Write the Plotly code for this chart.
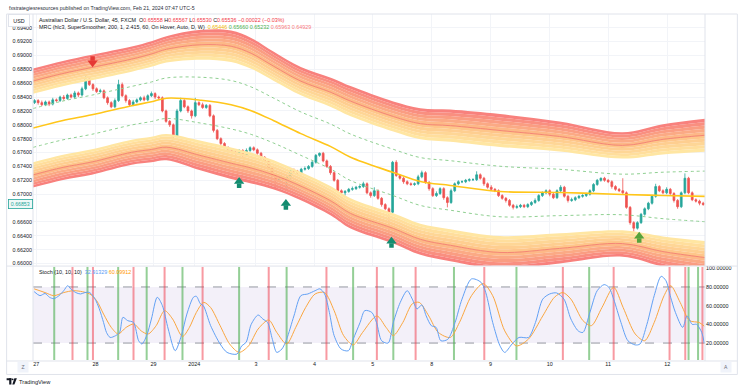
import numpy as np
import plotly.graph_objects as go

W, H = 743, 390
ML, MR, MT, MB = 31, 37, 13, 30
PW, PH = W - ML - MR, H - MT - MB


def xp(px):
    return (px - ML) / PW


def yp(py):
    return (H - MB - py) / PH


FONT = "Liberation Sans, Arial, sans-serif"
TXT = "#131722"
GRID = "#f2f4f8"
BORDER = "#e0e3eb"

# ---------------- data ----------------
day_ticks = [0.5, 16.7, 32.6, 43.7, 60.6, 76.6, 92.6, 108.7, 124.8, 141.0, 157.0, 173.2]
day_labels = ["27", "28", "29", "2024", "3", "4", "5", "8", "9", "10", "11", "12"]
price_ticks = [0.660, 0.662, 0.664, 0.666, 0.670, 0.672, 0.674, 0.676,
               0.678, 0.680, 0.682, 0.684, 0.686, 0.688, 0.690, 0.692, 0.694]
stoch_ticks = [20, 40, 60, 80, 100]

# 90-minute candles, prices in pips (x 1e-4)
first_open_pips = 6832
close_pips = [
    6835, 6832, 6829, 6833, 6830, 6836, 6835, 6840, 6838, 6843,
    6840, 6846, 6843, 6852, 6866, 6858, 6852, 6848, 6849, 6839,
    6832, 6826, 6835, 6858, 6842, 6835, 6829, 6833, 6836, 6839,
    6836, 6842, 6845, 6840, 6839, 6820, 6805, 6800, 6784, 6820,
    6835, 6826, 6820, 6813, 6832, 6829, 6825, 6828, 6813, 6792,
    6780, 6773, 6767, 6763, 6761, 6759, 6763, 6756, 6763, 6767,
    6764, 6759, 6753, 6748, 6737, 6727, 6720, 6724, 6721, 6724,
    6734, 6733, 6731, 6736, 6737, 6740, 6746, 6756, 6759, 6748,
    6740, 6731, 6720, 6705, 6702, 6704, 6707, 6708, 6710, 6711,
    6715, 6702, 6698, 6705, 6694, 6685, 6679, 6674, 6746, 6727,
    6723, 6718, 6715, 6714, 6715, 6725, 6731, 6717, 6708, 6698,
    6701, 6708, 6695, 6688, 6705, 6715, 6718, 6718, 6720, 6721,
    6721, 6728, 6723, 6715, 6710, 6707, 6705, 6698, 6694, 6691,
    6684, 6681, 6682, 6684, 6682, 6685, 6688, 6691, 6698, 6702,
    6705, 6700, 6695, 6705, 6710, 6697, 6691, 6692, 6695, 6697,
    6698, 6700, 6705, 6714, 6720, 6723, 6720, 6718, 6711, 6707,
    6705, 6702, 6681, 6659, 6651, 6659, 6671, 6679, 6687, 6697,
    6711, 6705, 6702, 6707, 6701, 6691, 6682, 6702, 6723, 6702,
    6692, 6690, 6687, 6685.3,
]
wick_up_pips = [
    2, 2, 3, 2, 2, 3, 2, 2, 3, 2,
    2, 3, 2, 3, 5, 3, 2, 2, 3, 2,
    2, 2, 3, 7, 3, 2, 2, 3, 2, 2,
    3, 2, 3, 2, 2, 2, 2, 2, 2, 3,
    4, 2, 2, 2, 7, 2, 3, 2, 2, 2,
    2, 2, 2, 2, 3, 2, 2, 2, 3, 2,
    2, 2, 2, 2, 2, 2, 2, 2, 2, 2,
    2, 3, 2, 2, 3, 2, 2, 2, 1, 2,
    2, 2, 2, 2, 2, 2, 2, 3, 2, 2,
    3, 2, 2, 5, 2, 2, 2, 2, 2, 3,
    2, 2, 2, 2, 2, 3, 3, 2, 2, 2,
    3, 2, 2, 2, 3, 2, 2, 2, 2, 2,
    2, 5, 2, 2, 2, 3, 2, 2, 2, 2,
    2, 2, 3, 2, 2, 2, 2, 3, 2, 2,
    2, 2, 3, 2, 3, 2, 2, 3, 2, 2,
    2, 2, 2, 2, 2, 1, 2, 2, 2, 2,
    2, 18, 2, 2, 2, 2, 2, 2, 2, 2,
    4, 2, 2, 3, 2, 2, 2, 2, 7, 2,
    2, 2, 2, 2,
]
wick_dn_pips = [
    2, 3, 2, 2, 3, 2, 2, 2, 3, 2,
    2, 2, 3, 2, 2, 2, 3, 2, 2, 2,
    3, 2, 2, 2, 2, 3, 2, 2, 2, 2,
    2, 2, 2, 3, 2, 2, 2, 3, 4, 2,
    2, 2, 3, 4, 2, 2, 2, 2, 2, 3,
    2, 2, 2, 3, 2, 2, 2, 5, 2, 2,
    2, 2, 3, 2, 2, 3, 12, 2, 2, 13,
    2, 2, 2, 3, 2, 2, 2, 2, 2, 2,
    2, 3, 2, 2, 2, 4, 2, 2, 2, 2,
    2, 2, 3, 2, 2, 3, 2, 30, 2, 2,
    2, 3, 2, 2, 2, 2, 2, 2, 3, 2,
    2, 2, 3, 7, 2, 2, 2, 2, 2, 2,
    2, 2, 2, 3, 2, 2, 2, 2, 2, 3,
    2, 3, 2, 2, 2, 2, 2, 2, 2, 2,
    2, 3, 2, 2, 2, 2, 3, 2, 2, 2,
    2, 2, 2, 2, 2, 2, 2, 2, 3, 2,
    2, 2, 2, 3, 5, 2, 2, 2, 2, 2,
    2, 2, 2, 2, 2, 3, 3, 2, 2, 2,
    2, 2, 3, 2,
]

# Mean Reversion Channel knots (bar index, mean price, range)
mrc_x = [-0.4, 7.5, 15.7, 26.6, 32.0, 36.1, 45.6, 53.8, 59.3, 65.5, 72.9,
         81.1, 86.5, 98.2, 105.6, 113.8, 127.4, 143.7, 160.9, 172.0, 183.5]
mrc_mean = [0.67955, 0.68060, 0.68146, 0.68276, 0.68333, 0.68384, 0.68355,
            0.68290, 0.68204, 0.68060, 0.67873, 0.67686, 0.67532, 0.67313,
            0.67183, 0.67126, 0.67039, 0.67025, 0.66996, 0.66982, 0.66968]
mrc_range = [0.00280, 0.00280, 0.00282, 0.00278, 0.00285, 0.00292, 0.00331,
             0.00349, 0.00342, 0.00324, 0.00313, 0.00324, 0.00335, 0.00334,
             0.00345, 0.00357, 0.00364, 0.00334, 0.00293, 0.00335, 0.00365]
band_mult = 2.415
zone_inner, zone_outer = 1.765, 3.065

# signal arrows
sell_x = [15.9]
sell_y = [0.68923]
buy_x = [56.0, 68.8, 97.7, 165.5]
buy_y = [0.67154, 0.66838, 0.66292, 0.66364]
buy_colors = ["#138c70", "#138c70", "#138c70", "#56a33c"]

# Stochastic (10, 10, 10)
stoch_k_x = [-0.1, 1.5, 2.9, 4.1, 5.3, 6.7, 8.0, 9.1, 9.9, 11.3,
             12.6, 13.8, 15.1, 16.5, 17.7, 18.9, 19.7, 20.7, 22.2, 23.3,
             24.2, 25.5, 27.1, 28.5, 29.4, 30.7, 32.0, 33.6, 35.0, 36.6,
             38.5, 40.2, 41.7, 43.5, 44.3, 45.4, 46.2, 48.2, 50.8, 52.7,
             55.4, 56.7, 57.9, 59.3, 61.2, 62.5, 63.8, 65.1, 66.3, 67.7,
             69.0, 71.0, 72.9, 74.8, 76.8, 78.1, 79.4, 80.7, 82.0, 83.9,
             85.9, 87.2, 89.1, 90.4, 92.3, 93.6, 95.0, 96.8, 98.2, 100.1,
             102.0, 103.4, 104.7, 106.0, 107.2, 108.6, 109.9, 111.2, 113.1, 115.1,
             117.0, 119.6, 122.2, 123.5, 125.4, 127.4, 128.7, 130.7, 132.6, 135.2,
             137.1, 139.1, 141.0, 142.9, 144.9, 146.8, 148.8, 150.1, 152.0, 154.0,
             155.9, 157.2, 158.5, 160.5, 162.4, 164.4, 165.7, 167.6, 169.6, 171.5,
             172.8, 174.1, 175.4, 177.4, 178.6, 180.0, 181.2, 182.6, 183.3]
stoch_k = [75, 70.7, 73, 69, 67.5, 70.7, 76, 81.4, 78, 74,
           72.5, 74, 74, 67.5, 57, 42, 31.4, 26, 27.9, 31.4,
           47.5, 44, 42, 22.5, 19, 28, 45.7, 69, 60, 35,
           11.8, 28, 51, 69, 70, 62, 60, 38.6, 19, 10,
           8.2, 17, 20.7, 40, 50, 45.7, 42, 24, 10, 13.6,
           24, 49, 70.7, 72.5, 76, 78, 72.5, 52.8, 28, 13.6,
           11.8, 24, 42, 54.7, 52.8, 42, 22.5, 20, 42, 63.5,
           76, 67, 56.5, 60.8, 49, 38.6, 36.8, 22.5, 24, 42,
           67, 88.6, 85, 74, 42, 17, 10, 19, 26, 26,
           42, 67, 72.5, 73.6, 67, 45.7, 33, 31.4, 52.8, 76,
           82.5, 79.6, 67, 42, 22.5, 18, 19, 40, 70.7, 91.4,
           86.8, 69, 52.8, 36.8, 49, 40, 40, 31.4, 20]
stoch_d_x = [-0.1, 2.9, 5.3, 8.0, 10.6, 12.6, 15.1, 17.0, 18.9, 21.0,
             22.9, 25.1, 27.2, 29.2, 31.1, 33.3, 35.6, 37.8, 40.5, 42.4,
             44.3, 46.3, 48.2, 50.8, 53.4, 56.0, 58.6, 61.2, 64.1, 66.3,
             69.0, 71.5, 74.2, 76.8, 79.4, 82.0, 84.6, 87.2, 89.8, 93.7,
             96.2, 98.2, 100.8, 103.4, 105.3, 107.9, 110.5, 113.8, 116.3, 119.6,
             122.8, 125.4, 128.7, 131.9, 135.2, 139.1, 142.3, 144.6, 146.8, 150.1,
             152.4, 155.3, 158.5, 161.1, 164.4, 167.0, 169.6, 172.3, 174.1, 176.7,
             179.3, 181.9, 183.3]
stoch_d = [78, 74, 70.7, 74, 76, 75.3, 72.5, 65.4, 51, 36.8,
           29.7, 36.8, 40.4, 33, 29.7, 38.6, 54.7, 45.7, 27, 36.8,
           52.8, 63.5, 58, 38.6, 19, 10, 17, 35, 44.7, 31.4,
           19, 36.8, 58, 72.5, 74, 54.7, 28, 18, 31.4, 49,
           36.8, 28, 42, 62, 63.5, 49, 31.4, 26, 42, 70.7,
           83.6, 70.7, 33, 17, 24.3, 49, 69, 74, 67, 44,
           38.6, 58, 79.6, 58, 29.7, 22.5, 42, 70.7, 81.4, 63.5,
           44, 42, 38]

green_signals = [5.4, 14.5, 22.9, 30.7, 40.5, 56.0, 69.0, 87.2, 98.2, 114.8,
                 131.9, 151.8, 179.0, 181.6]
red_signals = [10.4, 16.0, 27.1, 35.6, 46.0, 64.1, 79.9, 93.7, 104.3, 123.1,
               144.6, 158.5, 173.8, 178.1, 182.8]

# ---------------- derived ----------------
close = np.array(close_pips) / 1e4
opn = np.array([first_open_pips] + close_pips[:-1]) / 1e4
high = np.maximum(opn, close) + np.array(wick_up_pips) / 1e4
low = np.minimum(opn, close) - np.array(wick_dn_pips) / 1e4
bars = np.arange(len(close))

Y0, Y1 = 0.65968, 0.69598
S0, S1 = 1.87, 101.6
XR = [-0.41, 183.5]
PPX = (Y1 - Y0) / (265.5 - MT)  # price per pixel in main pane

mean = np.array(mrc_mean)
rng = np.array(mrc_range)

stops = [(0.0, (255, 234, 165)), (0.45, (254, 198, 138)), (1.0, (247, 122, 124))]


def zone_color(f):
    for (f0, c0), (f1, c1) in zip(stops[:-1], stops[1:]):
        if f <= f1:
            t = (f - f0) / (f1 - f0)
            c = [round(a + (b - a) * t) for a, b in zip(c0, c1)]
            return "rgb(%d,%d,%d)" % tuple(c)
    return "rgb(%d,%d,%d)" % stops[-1][1]


fig = go.Figure()
N_STRIPS = 10
ks = np.linspace(zone_inner, zone_outer, N_STRIPS + 1)
for side in (1, -1):
    for j, k in enumerate(ks):
        yv = mean + side * k * rng
        kw = dict(x=mrc_x, y=yv, mode="lines", hoverinfo="skip", showlegend=False,
                  line=dict(width=0, shape="spline", smoothing=1.0))
        if j > 0:
            kw.update(fill="tonexty", fillcolor=zone_color((j - 0.5) / N_STRIPS))
        fig.add_trace(go.Scatter(**kw))
    fig.add_trace(go.Scatter(x=mrc_x, y=mean + side * band_mult * rng, mode="lines",
                             hoverinfo="skip", showlegend=False,
                             line=dict(width=1, color="rgba(240,110,100,0.75)",
                                       shape="spline", smoothing=1.0)))
    fig.add_trace(go.Scatter(x=mrc_x, y=mean + side * rng, mode="lines",
                             hoverinfo="skip", showlegend=False,
                             line=dict(width=1, color="#8fcf91", dash="dot",
                                       shape="spline", smoothing=1.0)))

fig.add_trace(go.Scatter(x=mrc_x, y=mean, mode="lines", hoverinfo="skip", showlegend=False,
                         line=dict(width=1.6, color="#ffc61a", shape="spline", smoothing=1.0)))

fig.add_trace(go.Candlestick(
    x=bars, open=opn, high=high, low=low, close=close, showlegend=False,
    increasing=dict(line=dict(color="#26a69a", width=0.8), fillcolor="#26a69a"),
    decreasing=dict(line=dict(color="#ef5350", width=0.8), fillcolor="#ef5350"),
    whiskerwidth=0, hoverinfo="skip"))

# arrows: head + shaft
sx = np.array(sell_x); sy = np.array(sell_y)
fig.add_trace(go.Scatter(x=sx, y=sy + 2.2 * PPX, mode="markers", hoverinfo="skip", showlegend=False,
                         marker=dict(symbol="square", size=4.5, color="#e53935", line=dict(width=0))))
fig.add_trace(go.Scatter(x=sx, y=sy - 2.0 * PPX, mode="markers", hoverinfo="skip", showlegend=False,
                         marker=dict(symbol="triangle-down", size=9, color="#e53935", line=dict(width=0))))
bx = np.array(buy_x); by = np.array(buy_y)
fig.add_trace(go.Scatter(x=bx, y=by - 2.2 * PPX, mode="markers", hoverinfo="skip", showlegend=False,
                         marker=dict(symbol="square", size=4.5, color=buy_colors, line=dict(width=0))))
fig.add_trace(go.Scatter(x=bx, y=by + 2.0 * PPX, mode="markers", hoverinfo="skip", showlegend=False,
                         marker=dict(symbol="triangle-up", size=9, color=buy_colors, line=dict(width=0))))

# stochastic
fig.add_trace(go.Scatter(x=stoch_d_x, y=stoch_d, xaxis="x2", yaxis="y2", mode="lines",
                         hoverinfo="skip", showlegend=False,
                         line=dict(width=1, color="#f9a640", shape="spline", smoothing=0.8)))
fig.add_trace(go.Scatter(x=stoch_k_x, y=stoch_k, xaxis="x2", yaxis="y2", mode="lines",
                         hoverinfo="skip", showlegend=False,
                         line=dict(width=1, color="#62a0f4", shape="spline", smoothing=0.8)))

shapes = []
shapes.append(dict(type="rect", xref="x2", x0=XR[0], x1=XR[1], yref="y2", y0=20, y1=80,
                   fillcolor="rgba(126,87,194,0.09)", line=dict(width=0), layer="below"))
for lvl in (20, 80):
    shapes.append(dict(type="line", xref="x2", x0=XR[0], x1=XR[1], yref="y2", y0=lvl, y1=lvl,
                       line=dict(color="#9598a1", width=1, dash="dash"), layer="below"))
for gx in green_signals:
    shapes.append(dict(type="line", xref="x2", x0=gx, x1=gx, yref="y2", y0=S0, y1=S1,
                       line=dict(color="rgba(76,175,80,0.6)", width=2), layer="below"))
for rx in red_signals:
    shapes.append(dict(type="line", xref="x2", x0=rx, x1=rx, yref="y2", y0=S0, y1=S1,
                       line=dict(color="rgba(242,54,69,0.5)", width=2), layer="below"))


def pline(x0, y0, x1, y1, color=BORDER, width=1):
    shapes.append(dict(type="line", xref="paper", yref="paper", x0=xp(x0), x1=xp(x1),
                       y0=yp(y0), y1=yp(y1), line=dict(color=color, width=width), layer="above"))


pline(4.5, 13, 738.5, 13)
pline(4.5, 374.5, 738.5, 374.5)
pline(4.5, 13, 4.5, 374.5)
pline(738.5, 13, 738.5, 374.5)
pline(31, 13, 31, 361)
pline(706, 13, 706, 361)
pline(4.5, 265.8, 738.5, 265.8)
pline(4.5, 361, 738.5, 361)

# TradingView logo (simple blocks)
for (x0, y0, x1, y1) in [(4.5, 378.3, 9.3, 380.3), (7.1, 378.3, 9.3, 384.6)]:
    shapes.append(dict(type="rect", xref="paper", yref="paper", x0=xp(x0), x1=xp(x1),
                       y0=yp(y1), y1=yp(y0), fillcolor="#131722", line=dict(width=0)))
shapes.append(dict(type="circle", xref="paper", yref="paper", x0=xp(9.7), x1=xp(11.5),
                   y0=yp(380.3), y1=yp(378.5), fillcolor="#131722", line=dict(width=0)))
shapes.append(dict(type="path", xref="paper", yref="paper",
                   path="M %f %f L %f %f L %f %f L %f %f Z" % (
                       xp(12.3), yp(378.3), xp(14.8), yp(378.3), xp(12.3), yp(384.6), xp(10.2), yp(384.6)),
                   fillcolor="#131722", line=dict(width=0)))

ann = []


def text(x, y, s, size=5.4, color=TXT, **kw):
    d = dict(x=xp(x), y=yp(y), xref="paper", yref="paper", text=s, showarrow=False,
             xanchor="left", yanchor="middle", font=dict(family=FONT, size=size, color=color))
    d.update(kw)
    ann.append(d)


NB = "\u00a0"
RED = "#f23645"
text(5, 6.5, "fxstrategiesresources published on TradingView.com, Feb 21, 2024 07:47 UTC-5",
     size=5.2, color="#2a2e39")
row1 = ("Australian Dollar / U.S. Dollar, 45, FXCM" + NB * 2 +
        "O<span style='color:%s'>0.65558</span>" % RED + NB +
        "H<span style='color:%s'>0.65567</span>" % RED + NB +
        "L<span style='color:%s'>0.65530</span>" % RED + NB +
        "C<span style='color:%s'>0.65536</span>" % RED + NB +
        "<span style='color:%s'>\u22120.00022 (\u22120.03%%)</span>" % RED)
text(35.3, 19.3, row1)
row2 = ("MRC (hlc3, SuperSmoother, 200, 1, 2.415, 60, On Hover, Auto, D, W)" + NB * 2 +
        "<span style='color:#f2b705'>0.65446</span>" + NB +
        "<span style='color:#4caf50'>0.65660</span>" + NB +
        "<span style='color:#4caf50'>0.65232</span>" + NB +
        "<span style='color:#f77c80'>0.65963</span>" + NB +
        "<span style='color:#f77c80'>0.64929</span>")
text(35.3, 26.2, row2)
text(35.3, 271.8, "Stoch (10, 10, 10)" + NB * 2 +
     "<span style='color:#5b9cf6'>32.91329</span>" + NB +
     "<span style='color:#ff9800'>60.09912</span>")
text(6.2, 20, "USD", size=5.4, bgcolor="white", bordercolor=BORDER, borderwidth=1,
     borderpad=1.5, width=17, height=8, align="center")
text(6.0, 204, "0.66853", size=5.2, color="#26a69a", bgcolor="#eef8f7",
     bordercolor="#26a69a", borderwidth=0.8, borderpad=1, width=21, height=6.5, align="center")
text(14.5, 367.3, "Z", size=5, color="#6a6d78", bgcolor="#f0f3fa", borderpad=1.5,
     width=7, height=7, align="center")
text(720.7, 367.3, "A", size=5, color="#6a6d78", bgcolor="#f0f3fa", borderpad=1.5,
     width=7, height=7, align="center")
text(15.3, 381.6, "TradingView", size=5.7, color="#131722")

axfont = dict(family=FONT, size=5.4, color=TXT)
fig.update_layout(
    width=W, height=H,
    margin=dict(l=ML, r=MR, t=MT, b=MB, pad=0),
    paper_bgcolor="white", plot_bgcolor="white",
    showlegend=False, hovermode=False,
    xaxis=dict(domain=[0, 1], anchor="y", range=XR, tickvals=day_ticks, showticklabels=False,
               showgrid=True, gridcolor=GRID, zeroline=False, showline=False, ticks="",
               rangeslider=dict(visible=False), fixedrange=True),
    xaxis2=dict(domain=[0, 1], anchor="y2", range=XR, tickvals=day_ticks, ticktext=day_labels,
                showgrid=False, zeroline=False, showline=False, ticks="",
                tickfont=axfont, fixedrange=True),
    yaxis=dict(domain=[yp(265.5), 1], anchor="x", range=[Y0, Y1], side="left",
               tickvals=price_ticks, tickformat=".5f", showgrid=True, gridcolor=GRID,
               zeroline=False, showline=False, ticks="", tickfont=axfont, fixedrange=True),
    yaxis2=dict(domain=[0, yp(266.5)], anchor="x2", range=[S0, S1], side="right",
                tickvals=stoch_ticks, tickformat=".5f", showgrid=False,
                zeroline=False, showline=False, ticks="", tickfont=axfont, fixedrange=True),
    shapes=shapes, annotations=ann,
)

fig.write_html("out.html", config={"displayModeBar": False},
               post_script="document.body.style.margin='0';document.body.style.overflow='hidden';")
